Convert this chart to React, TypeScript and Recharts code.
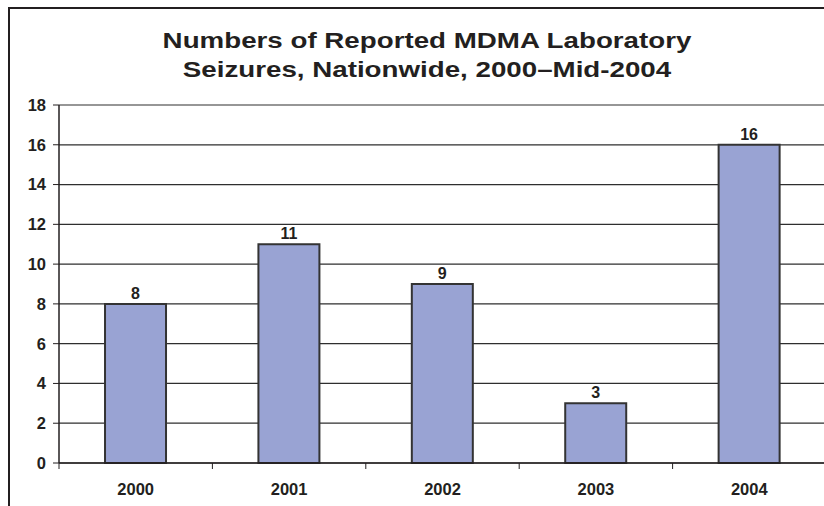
import { Bar, BarChart, CartesianGrid, LabelList, XAxis, YAxis } from 'recharts'

const years = ['2000', '2001', '2002', '2003', '2004']
const seizures = [8, 11, 9, 3, 16]
const yTicks = [0, 2, 4, 6, 8, 10, 12, 14, 16, 18]
const titleLines = ['Numbers of Reported MDMA Laboratory', 'Seizures, Nationwide, 2000–Mid-2004']

const chartData = years.map((year, i) => ({ year, seizures: seizures[i] }))

const chartWidth = 826
const chartHeight = 506
const axisWidth = 59
const plotWidth = chartWidth - axisWidth
const halfBand = plotWidth / years.length / 2

const fontFamily = '"Liberation Sans", Arial, sans-serif'
const inkColor = '#231f20'

function YearTick(props: any) {
  const { x, y, payload } = props
  return (
    <g>
      <line x1={x - halfBand} x2={x - halfBand} y1={y - 8} y2={y - 2} stroke={inkColor} strokeWidth={1} />
      <text
        x={x}
        y={y + 24}
        textAnchor="middle"
        fontFamily={fontFamily}
        fontWeight="bold"
        fontSize={16.5}
        fill={inkColor}
      >
        {payload.value}
      </text>
    </g>
  )
}

export default function App() {
  return (
    <div
      style={{
        position: 'absolute',
        left: 0,
        top: 0,
        width: 824,
        height: 506,
        overflow: 'hidden',
        background: '#fff',
      }}
    >
      <div
        style={{
          position: 'absolute',
          left: 8,
          top: 7,
          width: 900,
          height: 600,
          border: `2px solid ${inkColor}`,
        }}
      />
      <div
        style={{
          position: 'absolute',
          left: 0,
          top: 26,
          width: 854,
          textAlign: 'center',
          fontFamily,
          fontWeight: 'bold',
          fontSize: 22,
          lineHeight: '29px',
          color: inkColor,
          transform: 'scaleX(1.26)',
          transformOrigin: '427px 0',
        }}
      >
        {titleLines.map((line) => (
          <div key={line}>{line}</div>
        ))}
      </div>
      <div style={{ position: 'absolute', left: 0, top: 0 }}>
        <BarChart
          width={chartWidth}
          height={chartHeight}
          data={chartData}
          margin={{ top: 105, right: 0, bottom: 0, left: 0 }}
          barCategoryGap="30%"
        >
          <CartesianGrid horizontal vertical={false} stroke="#2e2e2e" strokeWidth={1.2} />
          <XAxis
            dataKey="year"
            height={43}
            tickLine={false}
            axisLine={{ stroke: inkColor, strokeWidth: 1.5 }}
            tick={<YearTick />}
            interval={0}
          />
          <YAxis
            width={axisWidth}
            domain={[0, 18]}
            ticks={yTicks}
            interval={0}
            tickSize={6}
            tickMargin={7}
            tickLine={{ stroke: inkColor }}
            axisLine={{ stroke: inkColor, strokeWidth: 1.5 }}
            tick={{ fontFamily, fontWeight: 'bold', fontSize: 16.5, fill: inkColor }}
          />
          <Bar dataKey="seizures" fill="#99a3d3" stroke="#333333" strokeWidth={2} isAnimationActive={false}>
            <LabelList
              dataKey="seizures"
              position="top"
              offset={5}
              fontFamily={fontFamily}
              fontWeight="bold"
              fontSize={16}
              fill={inkColor}
            />
          </Bar>
        </BarChart>
      </div>
    </div>
  )
}
